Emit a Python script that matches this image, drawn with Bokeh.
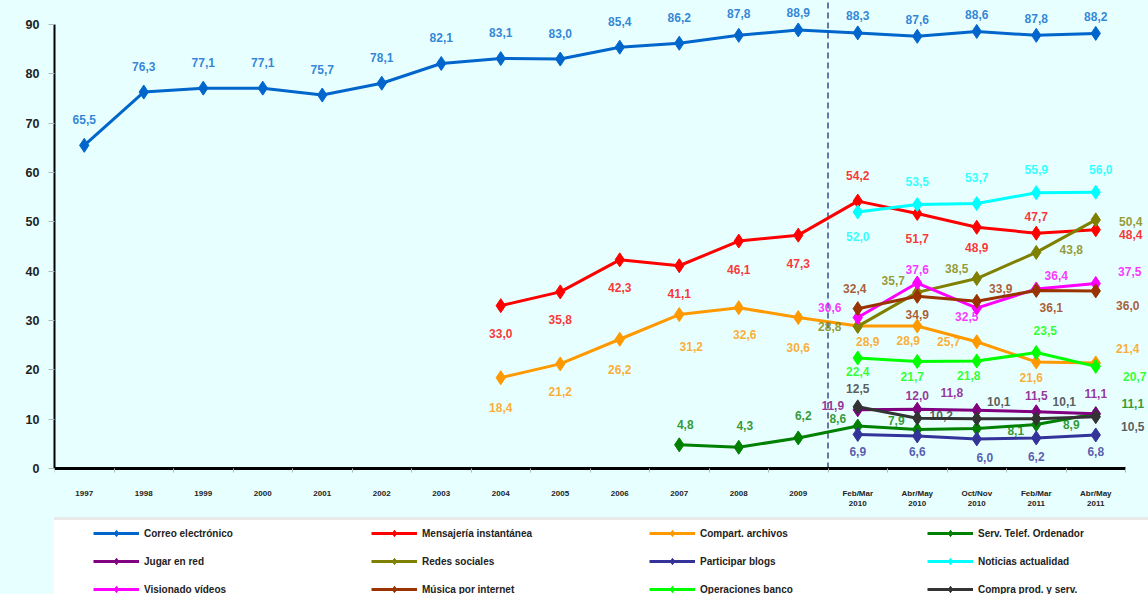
from bokeh.plotting import figure
from bokeh.models import (ColumnDataSource, Range1d, FixedTicker, Legend,
                          LegendItem, LabelSet)
from bokeh.core.properties import value
from bokeh.embed import file_html
from bokeh.resources import INLINE

# ---------------- data ----------------
PERIODS = ["1997", "1998", "1999", "2000", "2001", "2002", "2003", "2004", "2005",
           "2006", "2007", "2008", "2009", "Feb/Mar\n2010", "Abr/May\n2010",
           "Oct/Nov\n2010", "Feb/Mar\n2011", "Abr/May\n2011"]
Y_TICKS = [0, 10, 20, 30, 40, 50, 60, 70, 80, 90]

N = None
correo = [65.5, 76.3, 77.1, 77.1, 75.7, 78.1, 82.1, 83.1, 83.0, 85.4, 86.2, 87.8, 88.9,
          88.3, 87.6, 88.6, 87.8, 88.2]
mensajeria = [N, N, N, N, N, N, N, 33.0, 35.8, 42.3, 41.1, 46.1, 47.3,
              54.2, 51.7, 48.9, 47.7, 48.4]
compart = [N, N, N, N, N, N, N, 18.4, 21.2, 26.2, 31.2, 32.6, 30.6,
           28.9, 28.9, 25.7, 21.6, 21.4]
serv_telef = [N, N, N, N, N, N, N, N, N, N, 4.8, 4.3, 6.2,
              8.6, 7.9, 8.1, 8.9, 11.1]
jugar = [N, N, N, N, N, N, N, N, N, N, N, N, N, 11.9, 12.0, 11.8, 11.5, 11.1]
redes = [N, N, N, N, N, N, N, N, N, N, N, N, N, 28.8, 35.7, 38.5, 43.8, 50.4]
blogs = [N, N, N, N, N, N, N, N, N, N, N, N, N, 6.9, 6.6, 6.0, 6.2, 6.8]
noticias = [N, N, N, N, N, N, N, N, N, N, N, N, N, 52.0, 53.5, 53.7, 55.9, 56.0]
videos = [N, N, N, N, N, N, N, N, N, N, N, N, N, 30.6, 37.6, 32.5, 36.4, 37.5]
musica = [N, N, N, N, N, N, N, N, N, N, N, N, N, 32.4, 34.9, 33.9, 36.1, 36.0]
banco = [N, N, N, N, N, N, N, N, N, N, N, N, N, 22.4, 21.7, 21.8, 23.5, 20.7]
compra = [N, N, N, N, N, N, N, N, N, N, N, N, N, 12.5, 10.2, 10.1, 10.1, 10.5]

SERIES = [
    ("Correo electrónico", correo, "#0066CC"),
    ("Mensajería instantánea", mensajeria, "#FF0000"),
    ("Compart. archivos", compart, "#FF9900"),
    ("Serv. Telef. Ordenador", serv_telef, "#008000"),
    ("Jugar en red", jugar, "#800080"),
    ("Redes sociales", redes, "#808000"),
    ("Participar blogs", blogs, "#333399"),
    ("Noticias actualidad", noticias, "#00FFFF"),
    ("Visionado vídeos", videos, "#FF00FF"),
    ("Música por internet", musica, "#993300"),
    ("Operaciones banco", banco, "#00FF00"),
    ("Compra prod. y serv.", compra, "#333333"),
]

# label placement (screen px offsets, dy positive = up), one per existing point
A = (0, 26)
LABEL_OFFSETS = {
    "Correo electrónico": [A, A, A, A, A, A, A, A, A, A, A, (0, 22), (0, 17),
                           (0, 17), (0, 17), (0, 17), (0, 17), (0, 17)],
    "Mensajería instantánea": [(0, -28)] * 6 + [(0, 26), (0, -25), (0, -20), (0, 17), (35, -5)],
    "Compart. archivos": [(0, -30), (0, -28), (0, -30), (12, -32), (6, -27), (0, -30),
                          (10, -16), (-9, -15), (-28, 0), (-5, -16), (32, 14)],
    "Serv. Telef. Ordenador": [(6, 20), (6, 22), (5, 22), (-20, 8), (-21, 9), (39, -2),
                               (35, 0), (37, 10)],
    "Jugar en red": [(-25, 4), (0, 14), (-25, 18), (0, 16), (0, 20)],
    "Redes sociales": [(-28, 0), (-24, 12), (-20, 10), (35, 3), (35, -2)],
    "Participar blogs": [(0, -17), (0, -16), (8, -19), (0, -19), (0, -17)],
    "Noticias actualidad": [(0, -25), (0, 23), (0, 26), (0, 23), (5, 23)],
    "Visionado vídeos": [(-28, 10), (0, 14), (-10, -8), (20, 13), (34, 12)],
    "Música por internet": [(-3, 20), (0, -18), (24, 13), (15, -17), (32, -15)],
    "Operaciones banco": [(0, -14), (-5, -15), (-8, -15), (9, 22), (39, -10)],
    "Compra prod. y serv.": [(0, 18), (24, 3), (22, 17), (28, 17), (37, -10)],
}

BG = "#E8FFFF"
FONT = "Liberation Sans"

W, H = 1148, 594
LEFT = 54                        # plot area left edge (px)
AXIS_RIGHT = 1125                # x axis end (px)
Y0_PX, Y90_PX = 468, 24          # pixel rows of y=0 and y=90
n = len(PERIODS)
PX_PER_UNIT = (Y0_PX - Y90_PX) / 90
p = figure(width=W, height=H,
           x_range=Range1d(0, n * (W - LEFT) / (AXIS_RIGHT - LEFT)),
           y_range=Range1d(-(H - Y0_PX) / PX_PER_UNIT, 90 + Y90_PX / PX_PER_UNIT),
           output_backend="svg", toolbar_location=None,
           min_border_left=LEFT, min_border_right=0, min_border_top=0, min_border_bottom=0,
           background_fill_color=BG, border_fill_color=BG, outline_line_color=None)
p.xgrid.visible = False
p.ygrid.visible = False

# y axis
p.yaxis.ticker = FixedTicker(ticks=Y_TICKS, minor_ticks=[])
p.yaxis.bounds = (0, 90)
p.yaxis.axis_line_color = "black"
p.yaxis.axis_line_width = 2
p.yaxis.major_tick_out = 6
p.yaxis.major_tick_in = 0
p.yaxis.major_tick_line_color = "#b0b8b8"
p.yaxis.major_label_text_font = FONT
p.yaxis.major_label_text_font_style = "bold"
p.yaxis.major_label_text_font_size = "12.5px"
p.yaxis.major_label_text_color = "#222222"
p.yaxis.major_label_standoff = 9

# x axis, pinned at y = 0
centers = [i + 0.5 for i in range(n)]
p.xaxis.fixed_location = 0
p.xaxis.ticker = FixedTicker(ticks=centers, minor_ticks=list(range(n + 1)))
p.xaxis.bounds = (0, n)
p.xaxis.major_label_overrides = {c: lab for c, lab in zip(centers, PERIODS)}
p.xaxis.axis_line_color = "black"
p.xaxis.axis_line_width = 3
p.xaxis.major_tick_out = 0
p.xaxis.major_tick_in = 0
p.xaxis.minor_tick_out = 4
p.xaxis.minor_tick_in = 0
p.xaxis.minor_tick_line_color = "#b0b8b8"
p.xaxis.major_label_text_font = FONT
p.xaxis.major_label_text_font_style = "bold"
p.xaxis.major_label_text_font_size = "8px"
p.xaxis.major_label_text_color = "#222222"
p.xaxis.major_label_standoff = 16

# dashed separator between yearly data and 2010-2011 surveys
sep = PERIODS.index("Feb/Mar\n2010")
p.segment(x0=[sep], y0=[0], x1=[sep], y1=[p.y_range.end], line_color="#6677AA",
          line_width=2, line_dash="6 4")

items = []
for name, vals, color in SERIES:
    xs = [c for c, v in zip(centers, vals) if v is not None]
    ys = [v for v in vals if v is not None]
    offs = LABEL_OFFSETS[name]
    src = ColumnDataSource(dict(
        x=xs, y=ys,
        text=[f"{v:.1f}".replace(".", ",") for v in ys],
        dx=[o[0] for o in offs], dy=[o[1] for o in offs]))
    lr = p.line("x", "y", source=src, line_color=color, line_width=3)
    sr = p.scatter("x", "y", source=src, marker="diamond", size=14,
                   fill_color=color, line_color=color)
    p.add_layout(LabelSet(x="x", y="y", text="text", source=src,
                          x_offset="dx", y_offset="dy",
                          text_align="center", text_baseline="middle",
                          text_font=value(FONT), text_font_style="bold",
                          text_font_size="12px", text_color=color, text_alpha=0.8))
    items.append(LegendItem(label=name, renderers=[lr, sr]))

legend = Legend(items=items, orientation="horizontal", ncols=4,
                location=(-12, -11), padding=5, margin=0,
                title=" ", title_location="left", title_standoff=28,
                background_fill_color="white", background_fill_alpha=1.0,
                border_line_color="#d4d4d4", border_line_width=3,
                glyph_width=46, glyph_height=16, label_height=16, label_width=215,
                label_standoff=5, spacing=12,
                label_text_font=FONT, label_text_font_style="bold",
                label_text_font_size="10px", label_text_color="#222222")
p.add_layout(legend)

html = file_html(p, INLINE)
html = html.replace("</head>", "<style>body{background:%s;}</style></head>" % BG, 1)
open("out.html", "w").write(html)
